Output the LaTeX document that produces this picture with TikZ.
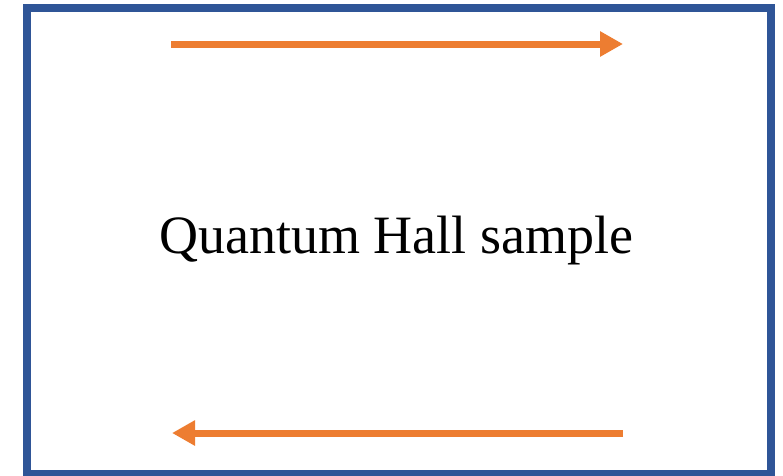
\documentclass[tikz,border=0pt]{standalone}
\usepackage{fontspec}
\setmainfont{Liberation Serif}
\usepackage{xcolor}
\usetikzlibrary{arrows.meta}
\definecolor{sampleblue}{HTML}{2F5597}
\definecolor{edgeorange}{HTML}{ED7D31}
\tikzset{edgecurrent/.style={line width=7pt,edgeorange,-{Triangle[length=23pt,width=24pt]}}}

\begin{document}
\begin{tikzpicture}[x=1pt,y=-1pt]
\useasboundingbox (0,0) rectangle (783,475);
\draw[line width=8pt,sampleblue] (26.5,8) rectangle (771,474);
\node[inner sep=0pt,anchor=base,font=\fontsize{54}{60}\selectfont] (sample) at (396,253) {Quantum Hall sample};
\coordinate (topL) at (171,44);
\coordinate (topR) at (623,44);
\coordinate (botR) at (623,433);
\coordinate (botL) at (172,433);
\draw[edgecurrent] (topL)--(topR);
\draw[edgecurrent] (botR)--(botL);
\end{tikzpicture}
\end{document}
